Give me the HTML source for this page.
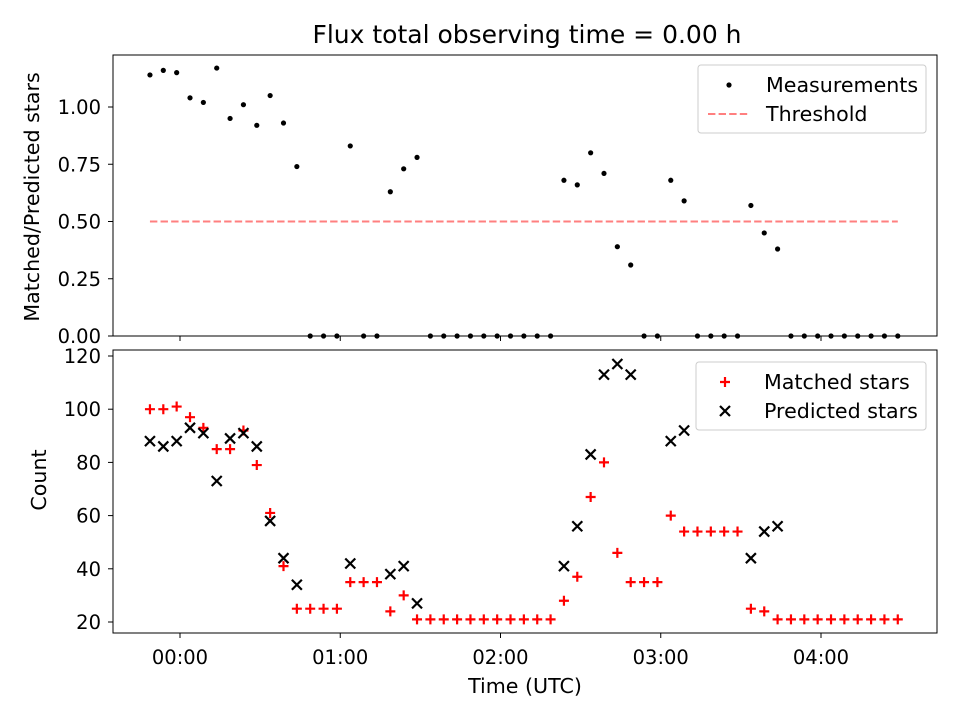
<!DOCTYPE html>
<html><head><meta charset="utf-8"><style>body{margin:0;background:#fff}svg{font-family:"DejaVu Sans","Liberation Sans",sans-serif}</style></head>
<body>
<svg id="chart" width="960" height="720" viewBox="0 0 960 720">
<rect width="960" height="720" fill="#fff"/>
<text x="527" y="43" text-anchor="middle" font-size="25">Flux total observing time = 0.00 h</text>
<g id="topg"></g><g id="botg"></g>
<text transform="translate(39,197) rotate(-90)" text-anchor="middle" font-size="20.6">Matched/Predicted stars</text>
<text transform="translate(46,480) rotate(-90)" text-anchor="middle" font-size="20.6">Count</text>
<text x="525" y="693" text-anchor="middle" font-size="20.6">Time (UTC)</text>
</svg>
<script>
const minutes=[-11.25,-6.25,-1.25,3.75,8.75,13.75,18.75,23.75,28.75,33.75,38.75,43.75,48.75,53.75,58.75,63.75,68.75,73.75,78.75,83.75,88.75,93.75,98.75,103.75,108.75,113.75,118.75,123.75,128.75,133.75,138.75,143.75,148.75,153.75,158.75,163.75,168.75,173.75,178.75,183.75,188.75,193.75,198.75,203.75,208.75,213.75,218.75,223.75,228.75,233.75,238.75,243.75,248.75,253.75,258.75,263.75,268.75];
const ratio=[1.14,1.16,1.15,1.04,1.02,1.17,0.95,1.01,0.92,1.05,0.93,0.74,0,0,0,0.83,0,0,0.63,0.73,0.78,0,0,0,0,0,0,0,0,0,0,0.68,0.66,0.80,0.71,0.39,0.31,0,0,0.68,0.59,0,0,0,0,0.57,0.45,0.38,0,0,0,0,0,0,0,0,0];
const matched=[100,100,101,97,93,85,85,92,79,61,41,25,25,25,25,35,35,35,24,30,21,21,21,21,21,21,21,21,21,21,21,28,37,67,80,46,35,35,35,60,54,54,54,54,54,25,24,21,21,21,21,21,21,21,21,21,21];
const predicted=[88,86,88,93,91,73,89,91,86,58,44,34,null,null,null,42,null,null,38,41,27,null,null,null,null,null,null,null,null,null,null,41,56,83,113,117,113,null,null,88,92,null,null,null,null,44,54,56,null,null,null,null,null,null,null,null,null];
const threshold=0.5;
const xTickLabels=["00:00","01:00","02:00","03:00","04:00"];
const topYTicks=[0,0.25,0.5,0.75,1.0];
const botYTicks=[20,40,60,80,100,120];
const NS="http://www.w3.org/2000/svg";
const L=113,R=937;
const FS=19.5;
const x=m=>180+m*160.25/60;
const yT=v=>336-v*229;
const yB=v=>622-(v-20)*2.66;
function mk(p,tag,a){const e=document.createElementNS(NS,tag);for(const k in a)e.setAttribute(k,a[k]);p.appendChild(e);return e;}
const topG=document.getElementById('topg'),botG=document.getElementById('botg');
let th=mk(topG,'line',{x1:x(minutes[0]),x2:x(minutes[minutes.length-1]),y1:yT(threshold),y2:yT(threshold),stroke:'#ff7f7f','stroke-width':2,'stroke-dasharray':'7.4,3.2'});


ratio.forEach((v,i)=>{const c=mk(topG,'circle',{cx:x(minutes[i]),cy:yT(v),r:2.6,fill:'#000'});

});
matched.forEach((v,i)=>{const cx=x(minutes[i]),cy=yB(v);const g=mk(botG,'path',{d:`M${cx-5},${cy}H${cx+5}M${cx},${cy-5}V${cy+5}`,stroke:'#f00','stroke-width':2.2});

});
predicted.forEach((v,i)=>{if(v==null)return;const cx=x(minutes[i]),cy=yB(v);const g=mk(botG,'path',{d:`M${cx-5},${cy-5}L${cx+5},${cy+5}M${cx-5},${cy+5}L${cx+5},${cy-5}`,stroke:'#000','stroke-width':2.2});

});
let f1=mk(topG,'rect',{x:L,y:55,width:R-L,height:281,fill:'none',stroke:'#000','stroke-width':1});


let f2=mk(botG,'rect',{x:L,y:350,width:R-L,height:283,fill:'none',stroke:'#000','stroke-width':1});


xTickLabels.forEach((t,i)=>{const xx=x(i*60);
mk(topG,'line',{x1:xx,x2:xx,y1:336,y2:341,stroke:'#000'});
mk(botG,'line',{x1:xx,x2:xx,y1:633,y2:638,stroke:'#000'});
const tx=mk(botG,'text',{x:xx,y:664,'text-anchor':'middle','font-size':FS});tx.textContent=t;

});
topYTicks.forEach(v=>{const yy=yT(v);mk(topG,'line',{x1:L-5,x2:L,y1:yy,y2:yy,stroke:'#000'});
const tx=mk(topG,'text',{x:L-12,y:yy+7,'text-anchor':'end','font-size':FS});tx.textContent=v.toFixed(2);

});
botYTicks.forEach(v=>{const yy=yB(v);mk(botG,'line',{x1:L-5,x2:L,y1:yy,y2:yy,stroke:'#000'});
const tx=mk(botG,'text',{x:L-12,y:yy+7,'text-anchor':'end','font-size':FS});tx.textContent=v;

});
function legend(p,x0,y0,w,items,name){const g=mk(p,'g',{});


mk(g,'rect',{x:x0,y:y0,width:w,height:68,rx:3,fill:'#fff','fill-opacity':0.8,stroke:'#ccc'});
items.forEach((it,i)=>{const cy=y0+20+i*29;
if(it.t=='dot')mk(g,'circle',{cx:x0+31,cy:cy,r:2.6,fill:'#000'});
if(it.t=='dash')mk(g,'line',{x1:x0+10,x2:x0+51,y1:cy,y2:cy,stroke:'#ff7f7f','stroke-width':2,'stroke-dasharray':'7.4,3.2'});
if(it.t=='plus')mk(g,'path',{d:`M${x0+24},${cy}h10M${x0+29},${cy-5}v10`,stroke:'#f00','stroke-width':2.2});
if(it.t=='x')mk(g,'path',{d:`M${x0+24},${cy-5}l10,10M${x0+24},${cy+5}l10,-10`,stroke:'#000','stroke-width':2.2});
const tx=mk(g,'text',{x:x0+68,y:cy+7,'font-size':20.6});tx.textContent=it.l;});}
legend(topG,698,65,228,[{t:'dot',l:'Measurements'},{t:'dash',l:'Threshold'}],'top-legend');
legend(botG,696,362,230,[{t:'plus',l:'Matched stars'},{t:'x',l:'Predicted stars'}],'bottom-legend');
</script>
</body></html>
